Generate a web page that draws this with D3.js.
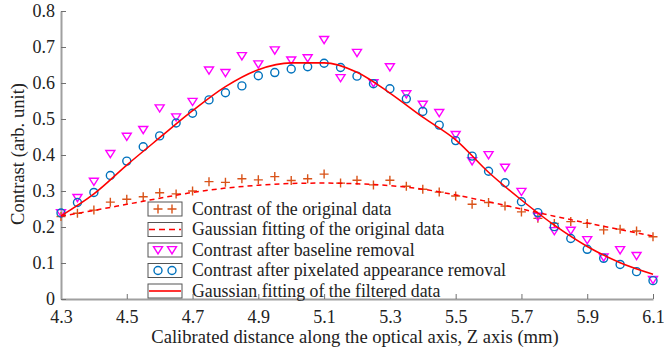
<!DOCTYPE html>
<html>
<head>
<meta charset="utf-8">
<script src="https://cdn.jsdelivr.net/npm/d3@7"></script>
<style>
  body { margin: 0; background: #fff; }
  svg { font-family: "Liberation Serif", "Times New Roman", serif; }
</style>
</head>
<body>
<div id="chart"></div>
<script>
// Measured positions along the Z axis (mm)
var zValues = [4.30, 4.35, 4.40, 4.45, 4.50, 4.55, 4.60, 4.65, 4.70, 4.75,
               4.80, 4.85, 4.90, 4.95, 5.00, 5.05, 5.10, 5.15, 5.20, 5.25,
               5.30, 5.35, 5.40, 5.45, 5.50, 5.55, 5.60, 5.65, 5.70, 5.75,
               5.80, 5.85, 5.90, 5.95, 6.00, 6.05, 6.10];

var originalData = [0.229, 0.238, 0.247, 0.269, 0.277, 0.284, 0.295, 0.292, 0.300, 0.326,
                    0.324, 0.334, 0.331, 0.340, 0.329, 0.334, 0.347, 0.322, 0.330, 0.317,
                    0.330, 0.313, 0.305, 0.297, 0.286, 0.263, 0.268, 0.258, 0.242, 0.224,
                    0.210, 0.215, 0.210, 0.192, 0.194, 0.189, 0.173];

var baselineRemoved = [0.239, 0.281, 0.326, 0.403, 0.451, 0.470, 0.530, 0.505, 0.548, 0.635,
                       0.628, 0.675, 0.652, 0.691, 0.663, 0.669, 0.720, 0.614, 0.684, 0.600,
                       0.644, 0.569, 0.540, 0.517, 0.456, 0.383, 0.400, 0.365, 0.298, 0.229,
                       0.189, 0.190, 0.164, 0.116, 0.136, 0.120, 0.053];

var pixelRemoved = [0.239, 0.268, 0.296, 0.343, 0.383, 0.423, 0.453, 0.489, 0.516, 0.553,
                    0.573, 0.592, 0.620, 0.629, 0.639, 0.645, 0.655, 0.643, 0.619, 0.598,
                    0.584, 0.556, 0.521, 0.483, 0.440, 0.397, 0.355, 0.323, 0.270, 0.240,
                    0.201, 0.168, 0.138, 0.113, 0.096, 0.076, 0.051];

// Gaussian fits
var fitZ = [4.3, 4.4, 4.5, 4.6, 4.7, 4.8, 4.9, 5.0, 5.1, 5.2,
            5.3, 5.4, 5.5, 5.6, 5.7, 5.8, 5.9, 6.0, 6.1];
var fitOriginal = [0.230, 0.246, 0.263, 0.280, 0.296, 0.308, 0.316, 0.321, 0.322, 0.320,
                   0.315, 0.305, 0.289, 0.270, 0.250, 0.230, 0.211, 0.193, 0.175];
var fitFiltered = [0.231, 0.292, 0.372, 0.448, 0.523, 0.590, 0.637, 0.656, 0.656, 0.630,
                   0.572, 0.505, 0.442, 0.352, 0.275, 0.205, 0.146, 0.101, 0.069];

var xTicks = [4.3, 4.5, 4.7, 4.9, 5.1, 5.3, 5.5, 5.7, 5.9, 6.1];
var yTicks = [0, 0.1, 0.2, 0.3, 0.4, 0.5, 0.6, 0.7, 0.8];

var legendLabels = ['Contrast of the original data',
                    'Gaussian fitting of the original data',
                    'Contrast after baseline removal',
                    'Contrast after pixelated appearance removal',
                    'Gaussian fitting of the filtered data'];

var COL_PLUS = '#d95319', COL_RED = '#ff0000', COL_TRI = '#ff00ff', COL_CIRC = '#0072bd';

var width = 664, height = 353;

var svg = d3.select('#chart').append('svg')
            .attr('width', width)
            .attr('height', height);

var x = d3.scaleLinear().domain([4.3, 6.1]).range([61, 653]);
var y = d3.scaleLinear().domain([0, 0.8]).range([299, 11]);

// Axes (ticks pointing inwards, like MATLAB)
var xAxis = d3.axisBottom(x).tickValues(xTicks).tickSizeInner(-5).tickSizeOuter(0)
              .tickPadding(10).tickFormat(d3.format('.1f'));
var yAxis = d3.axisLeft(y).tickValues(yTicks).tickSizeInner(-5).tickSizeOuter(0)
              .tickPadding(6).tickFormat(function(d) { return d === 0 ? '0' : d.toFixed(1); });

var gx = svg.append('g').attr('transform', 'translate(0,' + y(0) + ')').call(xAxis);
var gy = svg.append('g').attr('transform', 'translate(' + x(4.3) + ',0)').call(yAxis);

[gx, gy].forEach(function(g) {
  g.select('.domain').attr('stroke', '#a0a0a0').attr('stroke-width', 2);
  g.selectAll('.tick line').attr('stroke', '#707070').attr('stroke-width', 1);
  g.selectAll('.tick text').attr('fill', '#222').style('font-size', '18px')
   .style('font-family', '"Liberation Serif", serif');
});
gx.selectAll('.tick text').attr('dy', '0.75em');

// Axis titles
svg.append('text')
   .attr('x', 355).attr('y', 343)
   .attr('text-anchor', 'middle')
   .style('font-size', '18.6px').attr('fill', '#222')
   .text('Calibrated distance along the optical axis, Z axis  (mm)');

svg.append('text')
   .attr('transform', 'translate(24,' + 154 + ') rotate(-90)')
   .attr('text-anchor', 'middle')
   .style('font-size', '18.6px').attr('fill', '#222')
   .text('Contrast (arb. unit)');

var plot = svg.append('g');

// Marker helpers
function plusPath(cx, cy, s) {
  return 'M' + (cx - s) + ',' + cy + 'H' + (cx + s) + 'M' + cx + ',' + (cy - s) + 'V' + (cy + s);
}
function triPath(cx, cy, s) {
  return 'M' + (cx - s) + ',' + (cy - s * 0.75) + 'L' + (cx + s) + ',' + (cy - s * 0.75) +
         'L' + cx + ',' + (cy + s * 0.85) + 'Z';
}

var fitLine = d3.line()
                .curve(d3.curveMonotoneX)
                .x(function(d, i) { return x(fitZ[i]); })
                .y(function(d) { return y(d); });

// Original data (plus)
plot.append('g').selectAll('path')
    .data(originalData).enter().append('path')
    .attr('d', function(d, i) { return plusPath(x(zValues[i]), y(d), 4.5); })
    .attr('stroke', COL_PLUS).attr('stroke-width', 1.4).attr('fill', 'none');

// Baseline removed (down triangles)
plot.append('g').selectAll('path')
    .data(baselineRemoved).enter().append('path')
    .attr('d', function(d, i) { return triPath(x(zValues[i]), y(d), 4.5); })
    .attr('stroke', COL_TRI).attr('stroke-width', 1.4).attr('fill', 'none');

// Pixelated appearance removed (circles)
plot.append('g').selectAll('circle')
    .data(pixelRemoved).enter().append('circle')
    .attr('cx', function(d, i) { return x(zValues[i]); })
    .attr('cy', function(d) { return y(d); })
    .attr('r', 4)
    .attr('stroke', COL_CIRC).attr('stroke-width', 1.4).attr('fill', 'none');

// Fit curves
plot.append('path')
    .attr('d', fitLine(fitOriginal))
    .attr('fill', 'none').attr('stroke', COL_RED)
    .attr('stroke-width', 1.5).attr('stroke-dasharray', '5,4');

plot.append('path')
    .attr('d', fitLine(fitFiltered))
    .attr('fill', 'none').attr('stroke', COL_RED)
    .attr('stroke-width', 1.6);

// Legend
var legend = svg.append('g');
var rowY = [209, 229.5, 250, 270.5, 291];

legendLabels.forEach(function(label, i) {
  var cy = rowY[i];
  var row = legend.append('g');
  row.append('rect')
     .attr('x', 148).attr('y', cy - 7).attr('width', 34).attr('height', 14)
     .attr('fill', '#fff').attr('stroke', '#555').attr('stroke-width', 1);

  if (i === 0) {
    [158, 172].forEach(function(px) {
      row.append('path').attr('d', plusPath(px, cy, 4.5))
         .attr('stroke', COL_PLUS).attr('stroke-width', 1.4);
    });
  } else if (i === 1) {
    row.append('line').attr('x1', 149).attr('x2', 181).attr('y1', cy).attr('y2', cy)
       .attr('stroke', COL_RED).attr('stroke-width', 1.6).attr('stroke-dasharray', '6,4');
  } else if (i === 2) {
    [158, 172].forEach(function(px) {
      row.append('path').attr('d', triPath(px, cy, 4.5))
         .attr('stroke', COL_TRI).attr('stroke-width', 1.4).attr('fill', 'none');
    });
  } else if (i === 3) {
    [158, 172].forEach(function(px) {
      row.append('circle').attr('cx', px).attr('cy', cy).attr('r', 4)
         .attr('stroke', COL_CIRC).attr('stroke-width', 1.4).attr('fill', 'none');
    });
  } else {
    row.append('line').attr('x1', 149).attr('x2', 181).attr('y1', cy).attr('y2', cy)
       .attr('stroke', COL_RED).attr('stroke-width', 1.6);
  }

  row.append('text')
     .attr('x', 192).attr('y', cy + 5.5)
     .style('font-size', '17.8px').attr('fill', '#222')
     .text(label);
});
</script>
</body>
</html>
